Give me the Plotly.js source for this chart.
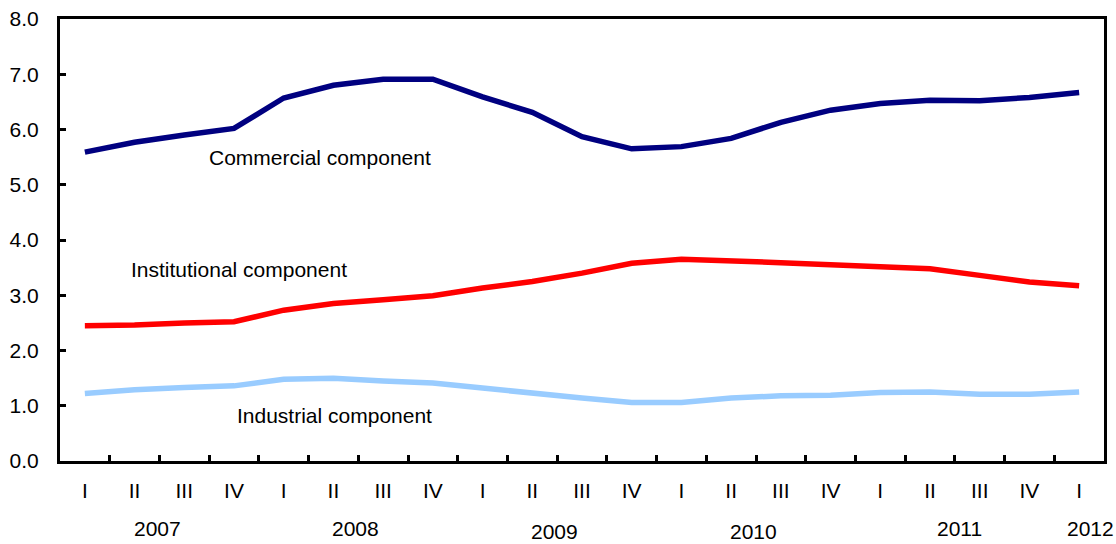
<!DOCTYPE html>
<html>
<head>
<meta charset="utf-8">
<script src="https://cdn.plot.ly/plotly-3.0.1.min.js"></script>
<style>
html,body{margin:0;padding:0;background:#fff;}
#chart{width:1116px;height:544px;}
</style>
</head>
<body>
<div id="chart"></div>
<script>
// Quarters 2007 Q1 .. 2012 Q1
const quarterLabels = ["I","II","III","IV","I","II","III","IV","I","II","III","IV","I","II","III","IV","I","II","III","IV","I"];
const quarterIds = ["2007Q1","2007Q2","2007Q3","2007Q4","2008Q1","2008Q2","2008Q3","2008Q4","2009Q1","2009Q2","2009Q3","2009Q4","2010Q1","2010Q2","2010Q3","2010Q4","2011Q1","2011Q2","2011Q3","2011Q4","2012Q1"];
const yearLabels = ["2007","2008","2009","2010","2011","2012"];

const commercial    = [5.59,5.77,5.90,6.02,6.57,6.80,6.91,6.91,6.59,6.31,5.87,5.65,5.69,5.84,6.13,6.35,6.47,6.53,6.52,6.58,6.67];
const institutional = [2.45,2.46,2.50,2.52,2.73,2.85,2.92,2.99,3.13,3.25,3.40,3.58,3.65,3.63,3.59,3.55,3.51,3.48,3.36,3.24,3.17];
const industrial    = [1.22,1.29,1.33,1.36,1.48,1.50,1.45,1.41,1.32,1.22,1.14,1.06,1.06,1.14,1.18,1.19,1.24,1.25,1.21,1.21,1.25];

const seriesNames = ["Commercial component","Institutional component","Industrial component"];

const FONT = "Liberation Sans, Arial, Helvetica, sans-serif";
const FS = 21;

const traces = [
  {x: quarterIds, y: commercial, type: "scatter", mode: "lines", name: seriesNames[0],
   line: {color: "#000080", width: 5.5}},
  {x: quarterIds, y: institutional, type: "scatter", mode: "lines", name: seriesNames[1],
   line: {color: "#FF0000", width: 5.5}},
  {x: quarterIds, y: industrial, type: "scatter", mode: "lines", name: seriesNames[2],
   line: {color: "#99CCFF", width: 5.5}}
];

// positions for the year labels (category index) and vertical offsets (paper)
const yearPos = [1.47, 5.45, 9.45, 13.45, 17.6, 20.22];
const yearY = [-0.152, -0.152, -0.159, -0.159, -0.152, -0.152];

const annotations = yearLabels.map((t, i) => ({
  text: t, x: yearPos[i], xref: "x", y: yearY[i], yref: "paper",
  xanchor: "center", yanchor: "middle", showarrow: false,
  font: {family: FONT, size: FS, color: "#000"}
}));

annotations.push(
  {text: seriesNames[0], x: 2.46, y: 5.5, xref: "x", yref: "y", xanchor: "left", yanchor: "middle",
   showarrow: false, font: {family: FONT, size: FS, color: "#000"}},
  {text: seriesNames[1], x: 0.89, y: 3.46, xref: "x", yref: "y", xanchor: "left", yanchor: "middle",
   showarrow: false, font: {family: FONT, size: FS, color: "#000"}},
  {text: seriesNames[2], x: 3.01, y: 0.83, xref: "x", yref: "y", xanchor: "left", yanchor: "middle",
   showarrow: false, font: {family: FONT, size: FS, color: "#000"}}
);

const layout = {
  width: 1116, height: 544,
  margin: {l: 60, r: 12, t: 19, b: 83},
  paper_bgcolor: "#fff", plot_bgcolor: "#fff",
  showlegend: false,
  font: {family: FONT, size: FS, color: "#000"},
  xaxis: {
    type: "category",
    tickmode: "array", tickvals: quarterIds, ticktext: quarterLabels,
    tickson: "boundaries",
    ticks: "inside", ticklen: 6, tickwidth: 3, tickcolor: "#000",
    showline: true, linecolor: "#000", linewidth: 3, mirror: true,
    showgrid: false, zeroline: false,
    ticklabelstandoff: 9,
    tickfont: {family: FONT, size: FS, color: "#000"},
    range: [-0.5, 20.5], fixedrange: true
  },
  yaxis: {
    range: [0, 8], dtick: 1, tick0: 0, tickformat: ".1f",
    ticks: "inside", ticklen: 6, tickwidth: 3, tickcolor: "#000",
    showline: true, linecolor: "#000", linewidth: 3, mirror: true,
    showgrid: false, zeroline: false,
    ticklabelstandoff: 14,
    tickfont: {family: FONT, size: FS, color: "#000"},
    fixedrange: true
  },
  annotations: annotations
};

Plotly.newPlot("chart", traces, layout, {displayModeBar: false, staticPlot: true});
</script>
</body>
</html>
